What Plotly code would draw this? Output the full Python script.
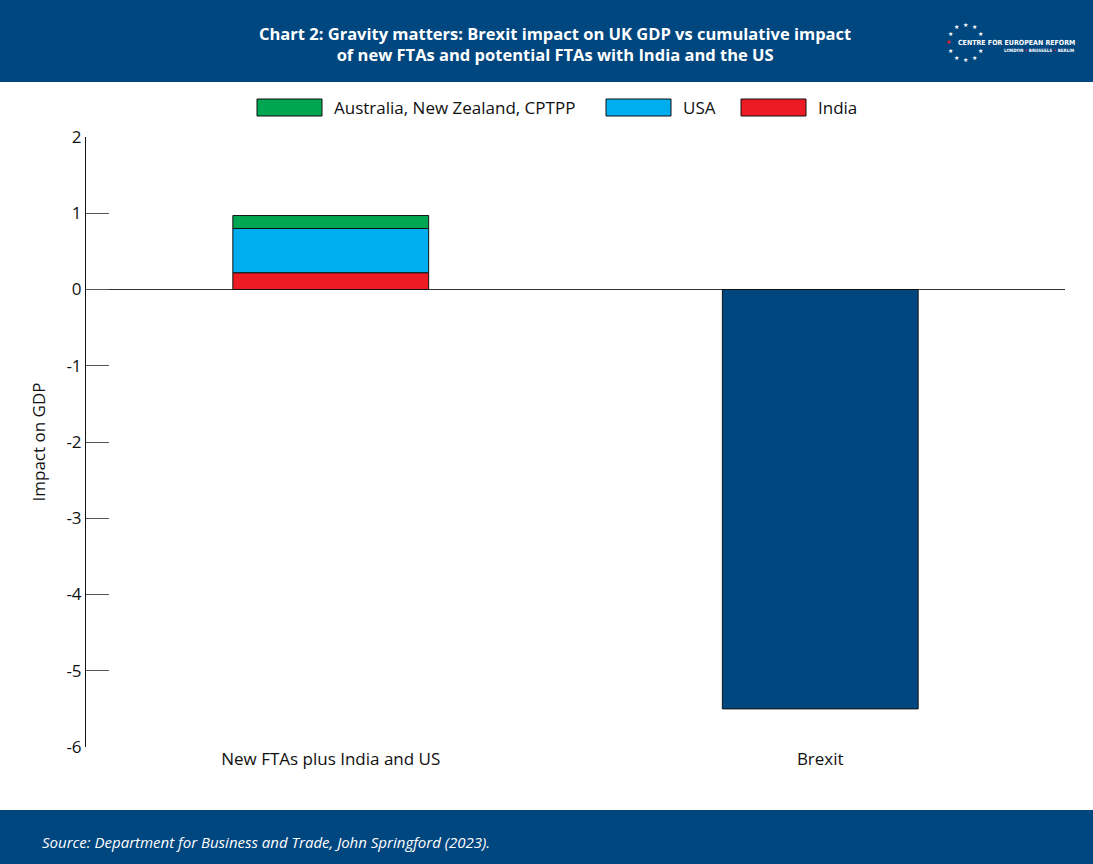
import math
import plotly.graph_objects as go

categories = ["New FTAs plus India and US", "Brexit"]
series_names = ["India", "USA", "Australia, New Zealand, CPTPP"]
india = [0.22, None]
usa = [0.58, None]
anz = [0.17, None]
brexit = [None, -5.5]
colors = {"India": "#ED1C24", "USA": "#00AEEF", "Australia, New Zealand, CPTPP": "#00A651"}
dark = "#00467F"
ytick_vals = [2, 1, 0, -1, -2, -3, -4, -5, -6]
ytick_text = ["2", "1", "0", "-1", "-2", "-3", "-4", "-5", "-6"]

W, H = 1093, 864
L, R, T, B = 86, 28, 137, 117
pw, ph = W - L - R, H - T - B
FONT = "Open Sans"
LOGO_FONT = "DejaVu Sans Condensed, Liberation Sans"

def px(x):
    return (x - L) / pw

def py(y):
    return (H - B - y) / ph

fig = go.Figure()
for name, vals in zip(series_names, [india, usa, anz]):
    fig.add_trace(go.Bar(x=categories, y=vals, name=name, marker_color=colors[name],
                         marker_line=dict(color="#111", width=1), showlegend=False))
fig.add_trace(go.Bar(x=categories, y=brexit, name="Brexit", marker_color=dark,
                     marker_line=dict(color="#111", width=1), showlegend=False))

shapes = [
    dict(type="rect", xref="paper", yref="paper", x0=px(0), x1=px(W), y0=py(82), y1=py(0),
         fillcolor=dark, line_width=0, layer="below"),
    dict(type="rect", xref="paper", yref="paper", x0=px(0), x1=px(W), y0=py(864), y1=py(810),
         fillcolor=dark, line_width=0, layer="below"),
]
annotations = [
    dict(xref="paper", yref="paper", x=px(555), y=py(44), xanchor="center", yanchor="middle",
         text="<b>Chart 2: Gravity matters: Brexit impact on UK GDP vs cumulative impact<br>of new FTAs and potential FTAs with India and the US</b>",
         showarrow=False, font=dict(color="white", size=16.5, family=FONT), align="center"),
    dict(xref="paper", yref="paper", x=px(40), y=py(842), xanchor="left", yanchor="middle",
         text="<i>Source: Department for Business and Trade, John Springford (2023).</i>",
         showarrow=False, font=dict(color="white", size=15, family=FONT)),
    dict(xref="paper", yref="paper", x=px(1077), y=py(43), xanchor="right", yanchor="middle",
         text="<b>CENTRE FOR EUROPEAN REFORM</b>", showarrow=False,
         font=dict(color="white", size=7, family=LOGO_FONT)),
    dict(xref="paper", yref="paper", x=px(1077), y=py(51), xanchor="right", yanchor="middle",
         text="<b>LONDON <span style='color:#ED1C24'>•</span> BRUSSELS <span style='color:#ED1C24'>•</span> BERLIN</b>",
         showarrow=False, font=dict(color="white", size=4.5, family=LOGO_FONT)),
]
cx, cy, rr = 965.5, 42.5, 17.5
for k in range(12):
    if k == 3:
        continue
    ang = math.radians(90 - 30 * k)
    sx = cx + rr * math.cos(ang)
    sy = cy - rr * math.sin(ang)
    annotations.append(dict(xref="paper", yref="paper", x=px(sx), y=py(sy), text="★",
                            showarrow=False, xanchor="center", yanchor="middle",
                            font=dict(size=6, color="#ED1C24" if k == 9 else "white")))

# custom legend
legend_order = ["Australia, New Zealand, CPTPP", "USA", "India"]
legend_x = [257, 606, 741]
for name, lx in zip(legend_order, legend_x):
    shapes.append(dict(type="rect", xref="paper", yref="paper", x0=px(lx), x1=px(lx + 65),
                       y0=py(116), y1=py(99), fillcolor=colors[name], line=dict(color="#111", width=1)))
    annotations.append(dict(xref="paper", yref="paper", x=px(lx + 75), y=py(108), xanchor="left",
                            yanchor="middle", text=name, showarrow=False,
                            font=dict(size=17, color="#111", family=FONT)))

fig.update_layout(
    barmode="relative", bargap=0.6,
    width=W, height=H, margin=dict(l=L, r=R, t=T, b=B),
    paper_bgcolor="white", plot_bgcolor="white",
    font=dict(family=FONT, size=16, color="#111"),
    shapes=shapes, annotations=annotations, showlegend=False,
    xaxis=dict(showgrid=False, showline=False, ticks="", tickfont=dict(size=17)),
    yaxis=dict(range=[-6, 2], tickvals=ytick_vals, ticktext=ytick_text, showgrid=False,
               showline=True, linecolor="#111", linewidth=1, ticks="inside", ticklen=23,
               tickcolor="#555", tickwidth=1, zeroline=True, zerolinecolor="#333",
               zerolinewidth=1, tickfont=dict(size=17),
               title=dict(text="Impact on GDP", font=dict(size=17), standoff=16)),
)
fig.write_html("out.html", config={"displayModeBar": False})
with open("out.html", "r", encoding="utf-8") as f:
    html = f.read()
html = html.replace("<head>", "<head><style>html,body{margin:0;padding:0;overflow:hidden}</style>", 1)
with open("out.html", "w", encoding="utf-8") as f:
    f.write(html)
